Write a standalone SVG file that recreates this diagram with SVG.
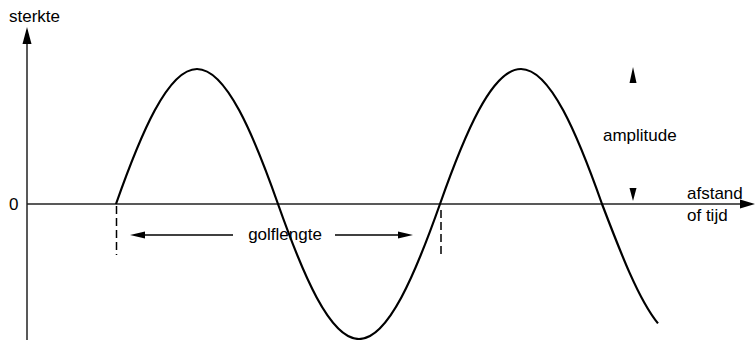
<svg xmlns="http://www.w3.org/2000/svg" width="755" height="340" viewBox="0 0 755 340">
<style>
text{font-family:"Liberation Sans",Arial,sans-serif;font-size:17px;fill:#000}
.ax{stroke:#222;stroke-width:1.5;fill:none}
.wave{stroke:#000;stroke-width:2.2;fill:none}
.dash{stroke:#000;stroke-width:1.5;stroke-dasharray:8,4;fill:none}
.arr{stroke:#000;stroke-width:1.5;fill:none}
.head{fill:#000;stroke:none}
</style>
<rect width="755" height="340" fill="#fff"/>
<g id="connectors">
<line class="ax" x1="27" y1="40" x2="27" y2="340"/>
<polygon class="head" points="27,27 22.5,44 31.5,44"/>
<line class="ax" x1="27" y1="204" x2="742" y2="204"/>
<polygon class="head" points="755,204 740,199.5 740,208.5"/>
<path class="wave" d="M116,204 C140.42,134.84 167.69,69 197,69 C226.31,69 253.58,134.84 278,204 C302.42,273.16 329.69,339 359,339 C388.31,339 415.58,273.16 440,204 C464.42,134.84 491.69,69 521,69 C550.31,69 577.58,134.84 602,204 C620.63,252.76 638.68,299.87 657.98,323.42"/>
<line class="dash" x1="116.5" y1="206" x2="116.5" y2="255"/>
<line class="dash" x1="441" y1="210" x2="441" y2="255"/>
<line class="arr" x1="142" y1="235" x2="233" y2="235"/>
<polygon class="head" points="130,235 145,231.5 145,238.5"/>
<line class="arr" x1="335" y1="235" x2="401" y2="235"/>
<polygon class="head" points="413,235 398,231.5 398,238.5"/>
<polygon class="head" points="633,67 629.5,83 636.5,83"/>
<polygon class="head" points="633,201 629.5,188 636.5,188"/>
</g>
<g id="labels">
<text x="9" y="22">sterkte</text>
<text x="9" y="210">0</text>
<text x="285" y="240" text-anchor="middle">golflengte</text>
<text x="603" y="141">amplitude</text>
<text x="687" y="199">afstand</text>
<text x="687" y="221">of tijd</text>
</g>
</svg>
